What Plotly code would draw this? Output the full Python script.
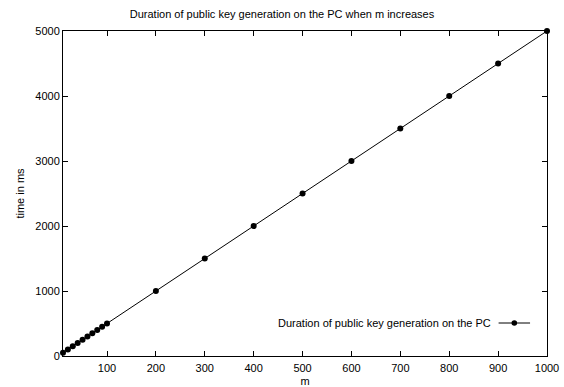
import plotly.graph_objects as go

m_values = [10, 20, 30, 40, 50, 60, 70, 80, 90, 100, 200, 300, 400, 500, 600, 700, 800, 900, 1000]
time_ms = [50, 100, 150, 200, 250, 300, 350, 400, 450, 500, 1000, 1500, 2000, 2500, 3000, 3500, 4000, 4500, 5000]
series_name = "Duration of public key generation on the PC"
title_text = "Duration of public key generation on the PC when m increases"
x_ticks = [100, 200, 300, 400, 500, 600, 700, 800, 900, 1000]
y_ticks = [0, 1000, 2000, 3000, 4000, 5000]

FONT = "Liberation Sans, Arial, Helvetica, sans-serif"

fig = go.Figure()
fig.add_trace(go.Scatter(
    x=m_values, y=time_ms, mode="lines+markers", name=series_name,
    line=dict(color="black", width=1),
    marker=dict(color="black", size=6),
    cliponaxis=False, showlegend=False,
))

axis_common = dict(
    showline=True, linecolor="black", linewidth=1, mirror="ticks",
    ticks="inside", ticklen=5, tickcolor="black", tickwidth=1,
    showgrid=False, zeroline=False, automargin=False,
    tickfont=dict(family=FONT, size=11, color="black"),
)
fig.update_xaxes(range=[10, 1000], tickvals=x_ticks, ticklabelstandoff=2,
                 title=dict(text="m", font=dict(family=FONT, size=11, color="black"), standoff=6),
                 **axis_common)
fig.update_yaxes(range=[0, 5000], tickvals=y_ticks,
                 title=dict(text="time in ms", font=dict(family=FONT, size=11, color="black"), standoff=8),
                 **axis_common)

# Legend (gnuplot style: text left of sample)
ly = 0.1015
fig.add_annotation(x=0.888, y=ly, xref="paper", yref="paper", text=series_name,
                   showarrow=False, xanchor="right", yanchor="middle",
                   font=dict(family=FONT, size=11, color="black"))
fig.add_shape(type="line", xref="paper", yref="paper", x0=0.900, x1=0.965, y0=ly, y1=ly,
              line=dict(color="black", width=1))
fig.add_shape(type="circle", xref="paper", yref="paper", x0=0.9325 - 0.0058, x1=0.9325 + 0.0058,
              y0=ly - 0.0086, y1=ly + 0.0086, fillcolor="black", line=dict(color="black", width=0))

fig.update_layout(
    width=564, height=387,
    margin=dict(l=63, r=17, t=31, b=31),
    paper_bgcolor="white", plot_bgcolor="white",
    title=dict(text=title_text, x=0.5, xanchor="center", y=1 - 14 / 387, yanchor="middle",
               font=dict(family=FONT, size=11, color="black")),
    font=dict(family=FONT, size=11, color="black"),
)

fig.write_html("out.html")
